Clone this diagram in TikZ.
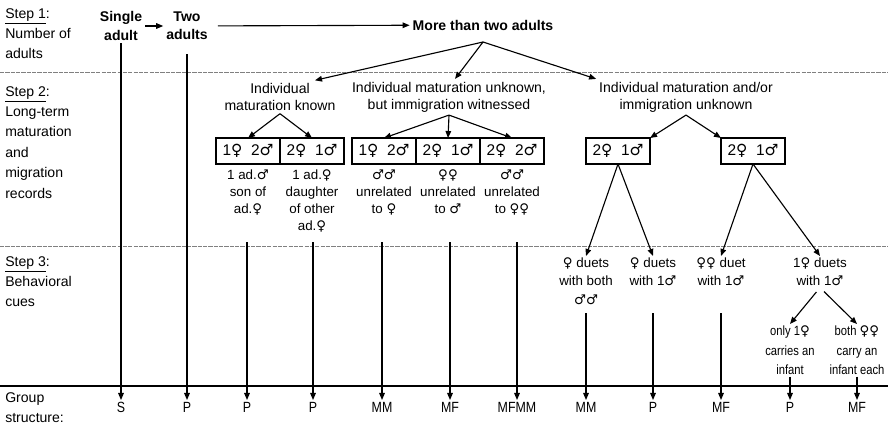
\documentclass[tikz,border=0pt]{standalone}
\usepackage{fontspec}
\setmainfont{Liberation Sans}
\newfontfamily\narrowfont[FakeStretch=0.84]{Liberation Sans}
\newfontfamily\symfont{DejaVu Sans}
\usetikzlibrary{arrows.meta, positioning, calc}
\newcommand{\fem}{{\symfont ♀}}
\newcommand{\mal}{{\symfont ♂}}
\tikzset{
  % Box styles
  sexbox/.style={rectangle, draw, line width=0.8pt, minimum width=1.6cm, minimum height=0.65cm, inner sep=1pt, outer sep=0pt, font=\fontsize{11}{13}\selectfont},
  % Text styles
  headtext/.style={align=center, inner sep=2pt, font=\fontsize{10}{12}\selectfont},
  bigtext/.style={align=center, inner sep=2pt, font=\bfseries\fontsize{10}{13}\selectfont},
  notetext/.style={align=center, anchor=north, inner sep=1pt, font=\fontsize{9.5}{12}\selectfont},
  cuetext/.style={align=center, anchor=north, inner sep=1pt, font=\fontsize{9.5}{13}\selectfont},
  smalltext/.style={align=center, anchor=north, inner sep=1pt, font=\narrowfont\fontsize{9.5}{14}\selectfont},
  steptext/.style={align=left, anchor=north west, inner sep=0pt, font=\fontsize{10}{14.5}\selectfont},
  grouptext/.style={anchor=north, inner sep=1.5pt, font=\narrowfont\fontsize{10.5}{12}\selectfont},
  % Line styles
  arrow/.style={-{Triangle[length=5pt,width=4pt]}, line width=0.8pt},
  sepline/.style={gray, line width=0.6pt, dash pattern=on 3pt off 0.8pt}
}

\begin{document}
\begin{tikzpicture}[x=0.025cm, y=-0.025cm]
  \useasboundingbox (0,0) rectangle (888,435);

  % Separators
  \draw[sepline] (0,72) -- (888,72);
  \draw[sepline] (0,246) -- (888,246);
  \draw[line width=1pt] (0,386) -- (888,386);

  % Step labels
  \node[steptext] (step1) at (5,8) {\underline{Step 1}:\\Number of\\adults};
  \node[steptext] (step2) at (5,86) {\underline{Step 2}:\\Long-term\\maturation\\and\\migration\\records};
  \node[steptext] (step3) at (5,256) {\underline{Step 3}:\\Behavioral\\cues};
  \node[steptext] (step4) at (5,392) {Group\\structure:};

  % Step 1: number of adults
  \node[bigtext] (single) at (121,26) {Single\\adult};
  \node[bigtext] (two) at (187,26) {Two\\adults};
  \node[bigtext] (more) at (483,25) {More than two adults};
  \draw[arrow] (single) -- (two);
  \draw[arrow, shorten <=5pt] (two) -- (more);

  % Step 2: headings
  \node[headtext] (known) at (280,97) {Individual\\maturation known};
  \node[headtext] (witnessed) at (449,97) {Individual maturation unknown,\\but immigration witnessed};
  \node[headtext] (unknown) at (686,97) {Individual maturation and/or\\immigration unknown};
  \coordinate (apex) at (483,42);
  \draw[arrow] (apex) -- ($(known.north)+(35,0)$);
  \draw[arrow] (apex) -- ($(witnessed.north)+(6,0)$);
  \draw[arrow] (apex) -- (unknown.north west);

  % Step 2: boxes
  \node[sexbox] (b1) at (248,151) {1\fem\ \ 2\mal};
  \node[sexbox, right=0pt of b1] (b2) {2\fem\ \ 1\mal};
  \node[sexbox] (b3) at (384,151) {1\fem\ \ 2\mal};
  \node[sexbox, right=0pt of b3] (b4) {2\fem\ \ 1\mal};
  \node[sexbox, right=0pt of b4] (b5) {2\fem\ \ 2\mal};
  \node[sexbox] (b6) at (618,151) {2\fem\ \ 1\mal};
  \node[sexbox] (b7) at (753,151) {2\fem\ \ 1\mal};
  \draw[arrow] (known.south) -- (b1.north);
  \draw[arrow] (known.south) -- (b2.north);
  \foreach \b in {b3,b4,b5}
    \draw[arrow] (witnessed.south) -- (\b.north);
  \draw[arrow] (unknown.south) -- (b6.north east);
  \draw[arrow] (unknown.south) -- (b7.north west);

  % Step 2: notes
  \node[notetext, below=3pt of b1] (n1) {1 ad.\mal\\son of\\ad.\fem};
  \node[notetext, below=3pt of b2] (n2) {1 ad.\fem\\daughter\\of other\\ad.\fem};
  \node[notetext, below=3pt of b3] (n3) {\mal\mal\\unrelated\\to \fem};
  \node[notetext, below=3pt of b4] (n4) {\fem\fem\\unrelated\\to \mal};
  \node[notetext, below=3pt of b5] (n5) {\mal\mal\\unrelated\\to \fem\fem};

  % Step 3: behavioral cues
  \node[cuetext] (c1) at (586,256) {\fem\ duets\\with both\\\mal\mal};
  \node[cuetext] (c2) at (653,256) {\fem\ duets\\with 1\mal};
  \node[cuetext] (c3) at (721,256) {\fem\fem\ duet\\with 1\mal};
  \node[cuetext] (c4) at (820,256) {1\fem\ duets\\with 1\mal};
  \draw[arrow] (b6.south) -- (c1.north);
  \draw[arrow] (b6.south) -- (c2.north);
  \draw[arrow] (b7.south) -- (c3.north);
  \draw[arrow] (b7.south) -- (c4.north);
  \node[smalltext] (o1) at (790,324) {only 1\fem\\carries an\\infant};
  \node[smalltext] (o2) at (857,324) {both \fem\fem\\carry an\\infant each};
  \draw[arrow, shorten <=4pt] (c4.south) -- (o1.north);
  \draw[arrow, shorten <=4pt] (c4.south) -- (o2.north);

  % Group structure
  \foreach \n/\x/\g in {1/121/S, 2/187/P, 3/247/P, 4/313/P, 5/382/MM, 6/450/MF,
                        7/517/MFMM, 8/586/MM, 9/653/P, 10/721/MF, 11/790/P, 12/857/MF}
    \node[grouptext] (g\n) at (\x,400) {\g};

  % Paths down to group structure
  \foreach \n/\x in {3/247, 4/313, 5/382, 6/450, 7/517}
    \coordinate (s\n) at (\x,242);
  \foreach \n/\x in {8/586, 9/653, 10/721}
    \coordinate (s\n) at (\x,313);
  \draw[arrow] (single.south) -- (g1.north);
  \draw[arrow, shorten <=8pt] (two.south) -- (g2.north);
  \foreach \n in {3,...,10}
    \draw[arrow] (s\n) -- (g\n.north);
  \draw[arrow] (o1.south) -- (g11.north);
  \draw[arrow] (o2.south) -- (g12.north);
\end{tikzpicture}
\end{document}
